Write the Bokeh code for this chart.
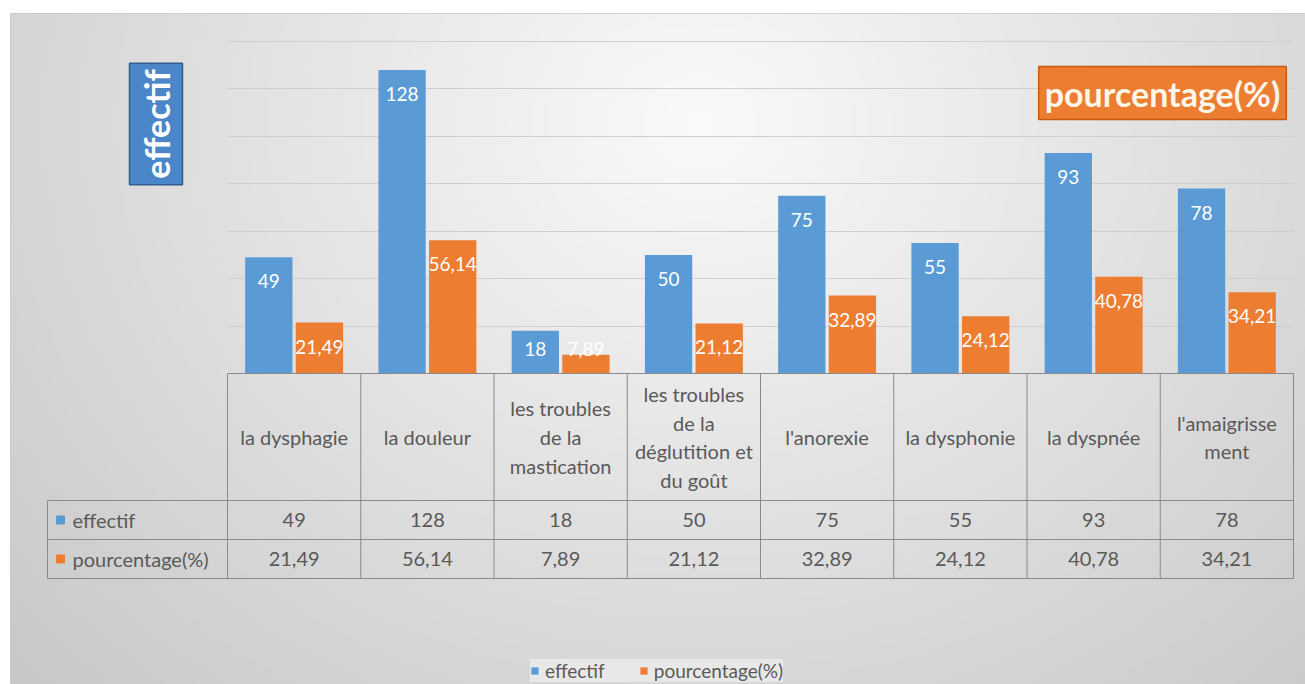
import numpy as np
from bokeh.plotting import figure
from bokeh.models import (ColumnDataSource, Range1d, Grid, FixedTicker, Label,
                          Legend, LegendItem)
from bokeh.transform import dodge
from bokeh.core.properties import value
from bokeh.embed import file_html
from bokeh.resources import INLINE

# ---------------- data ----------------
categories = ["la dysphagie", "la douleur", "les troubles\nde la\nmastication",
              "les troubles\nde la\ndéglutition et\ndu goût", "l'anorexie",
              "la dysphonie", "la dyspnée", "l'amaigrisse\nment"]
effectif = [49, 128, 18, 50, 75, 55, 93, 78]
pourcentage = [21.49, 56.14, 7.89, 21.12, 32.89, 24.12, 40.78, 34.21]
series_names = ["effectif", "pourcentage(%)"]
y_ticks = [0, 20, 40, 60, 80, 100, 120, 140]

# ---------------- style / layout ----------------
BLUE = "#5B9BD5"
ORANGE = "#ED7D31"
TXT = "#595959"
FONT = "Lato"
W, H = 1305, 684
FRAME_L, FRAME_T = 10, 13
PLOT_L, PLOT_R = 227, 1293
PLOT_T, BASE = 41, 373
TABLE_L = 47
ROW_Y = [373, 500, 539, 578]
BAR_W = 0.355
OFF = 0.19

n = len(categories)
px_per_x = (PLOT_R - PLOT_L) / n
px_per_y = (BASE - PLOT_T) / y_ticks[-1]


def X(px):
    return (px - PLOT_L) / px_per_x


def Y(py):
    return (BASE - py) / px_per_y


p = figure(width=W, height=H,
           x_range=Range1d(X(FRAME_L), X(W)), y_range=Range1d(Y(H), Y(FRAME_T)),
           output_backend="svg", toolbar_location=None,
           x_axis_location=None, y_axis_location=None,
           min_border_left=FRAME_L, min_border_top=FRAME_T,
           min_border_right=0, min_border_bottom=0,
           border_fill_color="white", outline_line_color="#c9c9c9")
# drop the default grids
p.center = [r for r in p.center if not isinstance(r, Grid)]

# soft radial background like the Office chart style
gw, gh = 262, 136
gx = np.linspace(FRAME_L, W, gw)
gy = np.linspace(H, FRAME_T, gh)
XX, YY = np.meshgrid(gx, gy)
d = np.sqrt(((XX - 700) / 700) ** 2 + ((YY - 120) / 600) ** 2)
g = np.clip(250 - 37 * d, 200, 250).astype(np.uint8)
img = np.empty((gh, gw), dtype=np.uint32)
view = img.view(dtype=np.uint8).reshape((gh, gw, 4))
view[..., 0] = g
view[..., 1] = g
view[..., 2] = g
view[..., 3] = 255
p.image_rgba(image=[img], x=X(FRAME_L), y=Y(H), dw=X(W) - X(FRAME_L),
             dh=Y(FRAME_T) - Y(H), level="image")

grid = Grid(dimension=1, ticker=FixedTicker(ticks=y_ticks[1:]), cross_bounds=(0, n),
            grid_line_color="#cfcfcf", grid_line_width=1.2)
p.add_layout(grid, "center")

lab_off = 24 / px_per_y
lab_min = 25 / px_per_y
src = ColumnDataSource(dict(
    x=[i + 0.5 for i in range(n)],
    eff=effectif, pct=pourcentage,
    eff_lab=[str(v) for v in effectif],
    pct_lab=[f"{v:.2f}".replace(".", ",") for v in pourcentage],
    eff_y=[max(v - lab_off, lab_min) for v in effectif],
    pct_y=[max(v - lab_off, lab_min) for v in pourcentage],
    hdr=categories,
))

rb = p.vbar(x=dodge("x", -OFF), top="eff", width=BAR_W, bottom=0, source=src,
            fill_color=BLUE, line_color=None)
ro = p.vbar(x=dodge("x", OFF), top="pct", width=BAR_W, bottom=0, source=src,
            fill_color=ORANGE, line_color=None)

lab_kw = dict(source=src, text_color="white", text_font=value(FONT), text_font_size="19px",
              text_align="center", text_baseline="middle")
p.text(x=dodge("x", -OFF), y="eff_y", text="eff_lab", **lab_kw)
p.text(x=dodge("x", OFF), y="pct_y", text="pct_lab", **lab_kw)

# ---------------- data table ----------------
xs_v = [[i, i] for i in range(n + 1)] + [[X(TABLE_L), X(TABLE_L)]]
ys_v = [[0, Y(ROW_Y[-1])] for _ in range(n + 1)] + [[Y(ROW_Y[1]), Y(ROW_Y[-1])]]
xs_h = [[0, n]] + [[X(TABLE_L), n] for _ in ROW_Y[1:]]
ys_h = [[Y(r), Y(r)] for r in ROW_Y]
p.multi_line(xs_v + xs_h, ys_v + ys_h, line_color="#8a8a8a", line_width=1)

tbl_kw = dict(source=src, text_color=TXT, text_font=value(FONT), text_font_size="20px",
              text_align="center", text_baseline="middle")
p.text(x="x", y=Y((ROW_Y[0] + ROW_Y[1]) / 2), text="hdr", text_line_height=1.2, **tbl_kw)
p.text(x="x", y=Y((ROW_Y[1] + ROW_Y[2]) / 2), text="eff_lab", **tbl_kw)
p.text(x="x", y=Y((ROW_Y[2] + ROW_Y[3]) / 2), text="pct_lab", **tbl_kw)

row_y = [Y((ROW_Y[1] + ROW_Y[2]) / 2), Y((ROW_Y[2] + ROW_Y[3]) / 2)]
p.scatter(x=[X(60)] * 2, y=row_y, marker="square", size=8, color=[BLUE, ORANGE])
p.text(x=[X(72)] * 2, y=row_y, text=series_names, text_color=TXT, text_font=value(FONT),
       text_font_size="20px", text_align="left", text_baseline="middle")

# ---------------- boxed titles ----------------
p.add_layout(Label(x=X(155.5), y=Y(123.5), text=series_names[0], angle=90, angle_units="deg",
                   text_align="center", text_baseline="middle", text_font=FONT,
                   text_font_size="34px", text_font_style="bold", text_color="white",
                   background_fill_color="#4A86C8", border_line_color="#2F5F8F",
                   border_line_width=1.5, padding=6))
p.add_layout(Label(x=X(1162), y=Y(92.5), text=series_names[1],
                   text_align="center", text_baseline="middle", text_font=FONT,
                   text_font_size="34px", text_font_style="bold", text_color="#FFF6EA",
                   background_fill_color=ORANGE, border_line_color="#C55A11",
                   border_line_width=1.5, padding=6))

# ---------------- legend ----------------
legend = Legend(items=[LegendItem(label=series_names[0], renderers=[rb]),
                       LegendItem(label=series_names[1], renderers=[ro])],
                orientation="horizontal", location=(520, 2),
                label_text_font=FONT, label_text_font_size="19px", label_text_color=TXT,
                glyph_width=9, glyph_height=9, label_standoff=6, spacing=34,
                padding=5, margin=0, label_height=20,
                background_fill_color="#f4f4f4", background_fill_alpha=0.6,
                border_line_color=None)
p.add_layout(legend)

open("out.html", "w").write(file_html(p, INLINE))
